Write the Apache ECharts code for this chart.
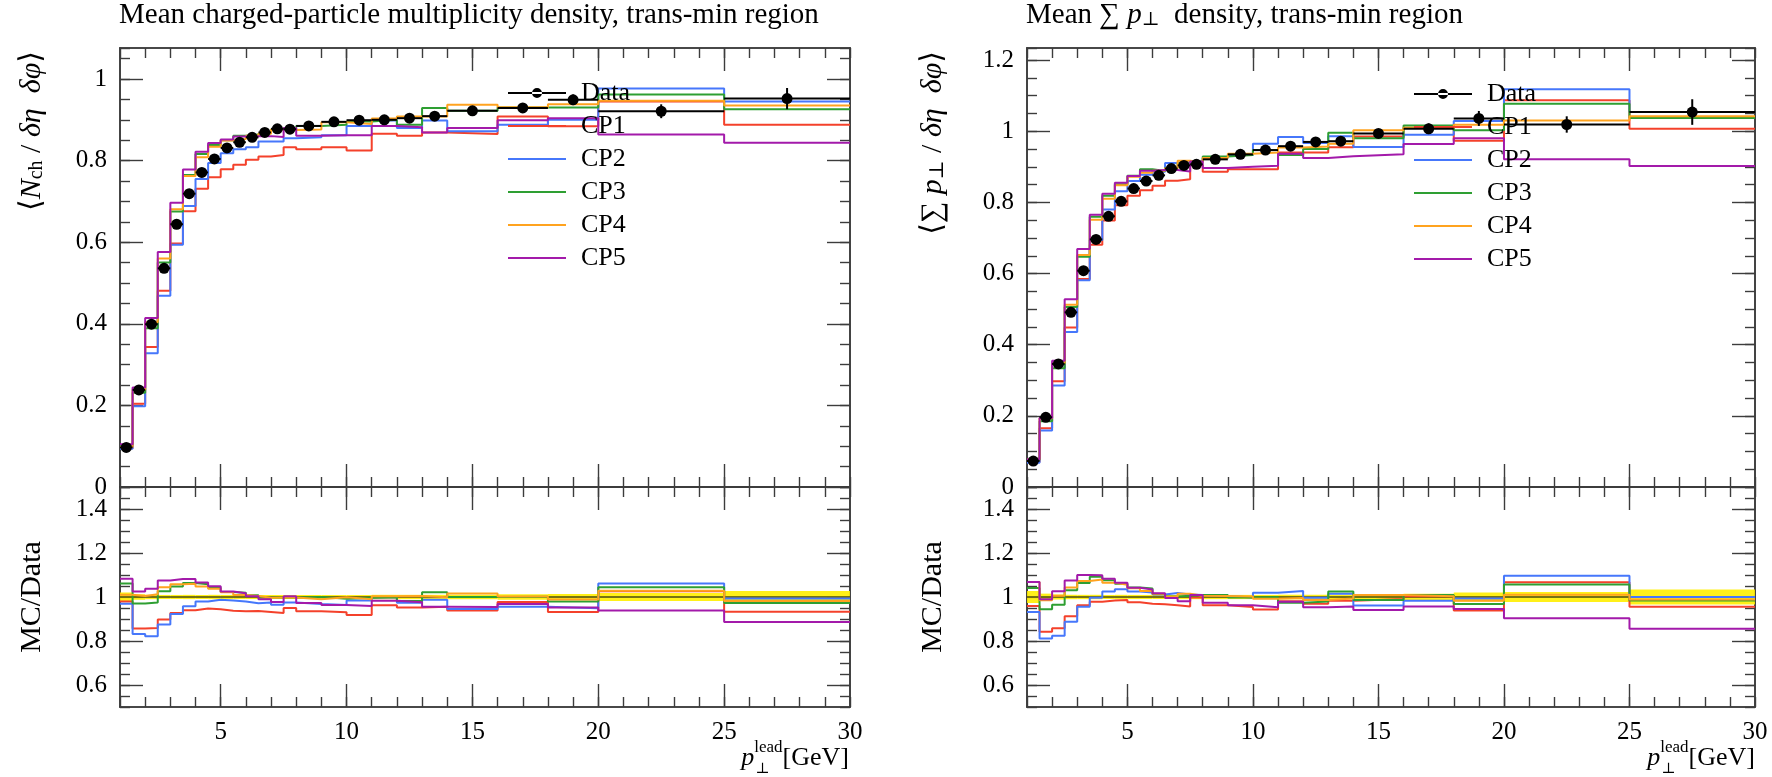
<!DOCTYPE html>
<html>
<head>
<meta charset="utf-8">
<script src="https://cdn.jsdelivr.net/npm/echarts@6/dist/echarts.min.js"></script>
<style>
  html, body { margin: 0; padding: 0; background: #ffffff; }
  #chart { width: 1772px; height: 777px; }
</style>
</head>
<body>
<div id="chart"></div>
<script>
// Bin edges of the leading-track pT histograms [GeV]
const binEdges = [1, 1.5, 2, 2.5, 3, 3.5, 4, 4.5, 5, 5.5, 6, 6.5, 7, 7.5, 8, 9, 10, 11, 12, 13, 14, 16, 18, 20, 25, 30];

// Charged-particle multiplicity density, trans-min region
const nchData = [0.097, 0.238, 0.399, 0.536, 0.644, 0.719, 0.771, 0.804, 0.831, 0.845, 0.857, 0.869, 0.878, 0.877, 0.885, 0.895, 0.899, 0.900, 0.904, 0.909, 0.922, 0.929, 0.949, 0.921, 0.952];
const nchErr  = [0.002, 0.003, 0.004, 0.005, 0.006, 0.007, 0.007, 0.008, 0.008, 0.008, 0.008, 0.008, 0.008, 0.008, 0.008, 0.008, 0.008, 0.009, 0.009, 0.009, 0.009, 0.012, 0.013, 0.017, 0.026];
const nchCP1  = [0.095, 0.204, 0.343, 0.481, 0.597, 0.676, 0.731, 0.759, 0.779, 0.790, 0.802, 0.810, 0.814, 0.833, 0.828, 0.833, 0.825, 0.866, 0.861, 0.869, 0.865, 0.908, 0.884, 0.945, 0.888];
const nchCP2  = [0.094, 0.198, 0.328, 0.469, 0.594, 0.689, 0.755, 0.794, 0.818, 0.828, 0.833, 0.847, 0.847, 0.855, 0.857, 0.862, 0.885, 0.898, 0.880, 0.898, 0.872, 0.888, 0.900, 0.977, 0.945];
const nchCP3  = [0.103, 0.231, 0.389, 0.550, 0.675, 0.765, 0.816, 0.838, 0.850, 0.861, 0.864, 0.867, 0.876, 0.875, 0.885, 0.888, 0.896, 0.900, 0.888, 0.929, 0.922, 0.930, 0.930, 0.962, 0.926];
const nchCP4  = [0.098, 0.239, 0.404, 0.560, 0.681, 0.762, 0.808, 0.834, 0.849, 0.853, 0.861, 0.866, 0.876, 0.875, 0.876, 0.894, 0.890, 0.903, 0.908, 0.908, 0.937, 0.931, 0.938, 0.947, 0.935];
const nchCP5  = [0.105, 0.244, 0.414, 0.576, 0.697, 0.778, 0.822, 0.843, 0.852, 0.859, 0.860, 0.860, 0.858, 0.880, 0.861, 0.862, 0.862, 0.885, 0.882, 0.869, 0.880, 0.899, 0.904, 0.864, 0.844];

// Scalar sum-pT density, trans-min region
const sptData = [0.073, 0.196, 0.346, 0.491, 0.608, 0.696, 0.761, 0.803, 0.839, 0.860, 0.876, 0.895, 0.904, 0.907, 0.921, 0.935, 0.947, 0.958, 0.970, 0.972, 0.994, 1.007, 1.036, 1.019, 1.054];
const sptErr  = [0.002, 0.003, 0.004, 0.005, 0.006, 0.007, 0.007, 0.008, 0.008, 0.008, 0.008, 0.008, 0.009, 0.009, 0.009, 0.009, 0.009, 0.010, 0.010, 0.010, 0.012, 0.015, 0.021, 0.023, 0.036];
const sptCP1  = [0.070, 0.165, 0.297, 0.448, 0.585, 0.681, 0.749, 0.792, 0.819, 0.834, 0.847, 0.861, 0.865, 0.905, 0.886, 0.893, 0.893, 0.940, 0.940, 0.955, 0.985, 1.010, 0.973, 1.087, 1.007];
const sptCP2  = [0.068, 0.159, 0.285, 0.436, 0.581, 0.694, 0.780, 0.831, 0.860, 0.878, 0.886, 0.911, 0.914, 0.915, 0.925, 0.933, 0.965, 0.984, 0.967, 0.986, 0.956, 0.990, 1.029, 1.118, 1.054];
const sptCP3  = [0.076, 0.185, 0.334, 0.506, 0.647, 0.760, 0.819, 0.851, 0.875, 0.893, 0.888, 0.897, 0.909, 0.915, 0.929, 0.933, 0.947, 0.933, 0.950, 0.996, 0.980, 1.016, 1.003, 1.077, 1.037];
const sptCP4  = [0.078, 0.193, 0.348, 0.512, 0.652, 0.751, 0.810, 0.848, 0.872, 0.883, 0.889, 0.896, 0.917, 0.912, 0.925, 0.937, 0.940, 0.954, 0.957, 0.965, 1.003, 1.010, 1.018, 1.030, 1.042];
const sptCP5  = [0.078, 0.194, 0.355, 0.528, 0.669, 0.765, 0.824, 0.855, 0.874, 0.889, 0.891, 0.891, 0.887, 0.915, 0.897, 0.900, 0.903, 0.937, 0.925, 0.930, 0.935, 0.964, 0.980, 0.921, 0.902];

// Tick labels
const xMajorTicks = [5, 10, 15, 20, 25];
const xTickLabels = [5, 10, 15, 20, 25, 30];
const nchTickLabels = [0, 0.2, 0.4, 0.6, 0.8, 1];
const sptTickLabels = [0, 0.2, 0.4, 0.6, 0.8, 1, 1.2];
const ratioTickLabels = [0.6, 0.8, 1, 1.2, 1.4];

const genNames = ['CP1', 'CP2', 'CP3', 'CP4', 'CP5'];
const genColors = ['#F4412B', '#4677FB', '#2E9F32', '#FFA31F', '#A31AAA'];

const FONT = '"Liberation Serif", "DejaVu Serif", serif';
const FRAME = '#3c3c3c';

// ---- helpers -------------------------------------------------------------
function steps(vals) {
  return binEdges.map((e, i) => [e, vals[Math.min(i, vals.length - 1)]]);
}
function ratioTo(mc, ref) {
  return mc.map((v, i) => v / ref[i]);
}
function fmtTick(v) {
  return String(Math.round(v * 10) / 10);
}

const tickStyle = { color: FRAME, width: 1.4 };
const lineAxis = { show: true, onZero: false, lineStyle: { color: FRAME, width: 1.6 } };
const labelStyle = { fontFamily: FONT, fontSize: 25, color: '#000' };

function xAxesFor(gi, showLabels) {
  const base = { type: 'value', gridIndex: gi, min: 1, max: 30, splitLine: { show: false }, axisLine: lineAxis };
  return [
    Object.assign({}, base, { position: 'bottom', interval: 1,
      axisTick: { inside: true, length: 10, lineStyle: tickStyle }, axisLabel: { show: false } }),
    Object.assign({}, base, { position: 'bottom',
      axisTick: { inside: true, length: 23, customValues: xMajorTicks, lineStyle: tickStyle },
      axisLabel: Object.assign({ show: showLabels, customValues: xTickLabels, margin: 13 }, labelStyle) }),
    Object.assign({}, base, { position: 'top', interval: 1,
      axisTick: { inside: true, length: 10, lineStyle: tickStyle }, axisLabel: { show: false } }),
    Object.assign({}, base, { position: 'top',
      axisTick: { inside: true, length: 23, customValues: xMajorTicks, lineStyle: tickStyle }, axisLabel: { show: false } })
  ];
}

function yAxesFor(gi, min, max, majors, labels) {
  const base = { type: 'value', gridIndex: gi, min: min, max: max, splitLine: { show: false }, axisLine: lineAxis };
  return [
    Object.assign({}, base, { position: 'left', interval: 0.05,
      axisTick: { inside: true, length: 10, lineStyle: tickStyle }, axisLabel: { show: false } }),
    Object.assign({}, base, { position: 'left',
      axisTick: { inside: true, length: 23, customValues: majors, lineStyle: tickStyle },
      axisLabel: Object.assign({ show: true, customValues: labels, margin: 13, formatter: fmtTick }, labelStyle) }),
    Object.assign({}, base, { position: 'right', interval: 0.05,
      axisTick: { inside: true, length: 10, lineStyle: tickStyle }, axisLabel: { show: false } }),
    Object.assign({}, base, { position: 'right',
      axisTick: { inside: true, length: 23, customValues: majors, lineStyle: tickStyle }, axisLabel: { show: false } })
  ];
}

// Data points with horizontal (bin width) and vertical error bars
function dataSeries(gi, vals, errs) {
  return {
    name: 'Data', type: 'custom', xAxisIndex: gi * 4, yAxisIndex: gi * 4, z: 6,
    itemStyle: { color: '#000' },
    data: vals.map((v, i) => [binEdges[i], binEdges[i + 1], v, errs[i]]),
    encode: { x: [0, 1], y: 2 },
    renderItem: function (params, api) {
      const lo = api.value(0), hi = api.value(1), y = api.value(2), e = api.value(3);
      const xm = (lo + hi) / 2;
      const pL = api.coord([lo, y]), pR = api.coord([hi, y]);
      const pM = api.coord([xm, y]);
      const pT = api.coord([xm, y + e]), pB = api.coord([xm, y - e]);
      return { type: 'group', children: [
        { type: 'line', shape: { x1: pL[0], y1: pL[1], x2: pR[0], y2: pR[1] }, style: { stroke: '#000', lineWidth: 2 } },
        { type: 'line', shape: { x1: pT[0], y1: pT[1], x2: pB[0], y2: pB[1] }, style: { stroke: '#000', lineWidth: 2 } },
        { type: 'circle', shape: { cx: pM[0], cy: pM[1], r: 5.5 }, style: { fill: '#000' } }
      ] };
    }
  };
}

// Relative data uncertainty band around unity
function bandSeries(gi, vals, errs) {
  return {
    name: 'Data band', type: 'custom', xAxisIndex: gi * 4, yAxisIndex: gi * 4, z: 1,
    data: vals.map((v, i) => [binEdges[i], binEdges[i + 1], errs[i] / v]),
    encode: { x: [0, 1] },
    renderItem: function (params, api) {
      const lo = api.value(0), hi = api.value(1), r = api.value(2);
      const p0 = api.coord([lo, 1 + r]), p1 = api.coord([hi, 1 - r]);
      return { type: 'rect', shape: { x: p0[0], y: p0[1], width: p1[0] - p0[0], height: p1[1] - p0[1] },
        style: { fill: '#FFEE00', opacity: 0.9 } };
    }
  };
}

function histSeries(gi, name, color, vals, z) {
  return {
    name: name, type: 'line', step: 'end', xAxisIndex: gi * 4, yAxisIndex: gi * 4,
    data: steps(vals), symbol: 'none', showSymbol: false, z: z,
    lineStyle: { color: color, width: 2 }, itemStyle: { color: color },
    emphasis: { disabled: true }
  };
}

function panelSeries(gMain, gRatio, data, errs, mcs) {
  const out = [];
  mcs.forEach((mc, k) => out.push(histSeries(gMain, genNames[k], genColors[k], mc, 3)));
  out.push(dataSeries(gMain, data, errs));
  out.push(bandSeries(gRatio, data, errs));
  out.push(Object.assign(histSeries(gRatio, 'Data ratio', '#4a4a10', data.map(() => 1), 2), { lineStyle: { color: '#4a4a10', width: 1.3 } }));
  mcs.forEach((mc, k) => out.push(histSeries(gRatio, genNames[k], genColors[k], ratioTo(mc, data), 3)));
  return out;
}

// ---- option ----------------------------------------------------------------
const dataIcon = 'path://M0,4.1H58V5.9H0Z M24,5A5,5 0 1,0 34,5A5,5 0 1,0 24,5Z';
function legendAt(left, top) {
  return {
    left: left, top: top, padding: 0, orient: 'vertical', itemWidth: 58, itemHeight: 10, itemGap: 7,
    selectedMode: false,
    textStyle: { fontFamily: FONT, fontSize: 26, lineHeight: 26, color: '#000', padding: [0, 0, 0, 10] },
    data: [{ name: 'Data', icon: dataIcon }].concat(genNames.map(n => ({ name: n, itemStyle: { opacity: 0 } })))
  };
}

const TITLE_SIZE = 29;
const AXIS_TITLE_SIZE = 30;
function richSet(size) {
  return {
    r: { fontFamily: FONT, fontSize: size, color: '#000' },
    i: { fontFamily: FONT, fontSize: size, fontStyle: 'italic', color: '#000' },
    s: { fontFamily: FONT, fontSize: Math.round(size * 0.66), lineHeight: Math.round(size * 0.52), verticalAlign: 'bottom', color: '#000' }
  };
}

const option = {
  animation: false,
  backgroundColor: '#ffffff',
  title: [
    { text: 'Mean charged-particle multiplicity density, trans-min region', left: 119, top: 1, padding: 0,
      textStyle: { fontFamily: FONT, fontSize: TITLE_SIZE, fontWeight: 'normal', color: '#000' } },
    { text: '{r|Mean ∑ }{i|p}{s|⊥}{r|  density, trans-min region}', left: 1026, top: 1, padding: 0,
      textStyle: { fontFamily: FONT, fontSize: TITLE_SIZE, fontWeight: 'normal', color: '#000', rich: richSet(TITLE_SIZE) } }
  ],
  legend: [legendAt(507, 80), legendAt(1413, 81)],
  grid: [
    { left: 120, top: 48, width: 730, height: 439 },
    { left: 120, top: 487, width: 730, height: 220 },
    { left: 1027, top: 48, width: 728, height: 439 },
    { left: 1027, top: 487, width: 728, height: 220 }
  ],
  xAxis: [].concat(xAxesFor(0, false), xAxesFor(1, true), xAxesFor(2, false), xAxesFor(3, true)),
  yAxis: [].concat(
    yAxesFor(0, 0, 1.076, nchTickLabels, nchTickLabels),
    yAxesFor(1, 0.5, 1.5, ratioTickLabels, ratioTickLabels),
    yAxesFor(2, 0, 1.234, sptTickLabels, sptTickLabels),
    yAxesFor(3, 0.5, 1.5, ratioTickLabels, ratioTickLabels)
  ),
  series: [].concat(
    panelSeries(0, 1, nchData, nchErr, [nchCP1, nchCP2, nchCP3, nchCP4, nchCP5]),
    panelSeries(2, 3, sptData, sptErr, [sptCP1, sptCP2, sptCP3, sptCP4, sptCP5])
  )
};

// ---- axis titles -----------------------------------------------------------
function measure(font, text) {
  const ctx = document.createElement('canvas').getContext('2d');
  ctx.font = font;
  return ctx.measureText(text).width;
}

function yTitle(x, y, rich, align) {
  return { type: 'text', x: x, y: y, rotation: Math.PI / 2,
    style: { text: rich, align: align, verticalAlign: 'middle', rich: richSet(AXIS_TITLE_SIZE),
      fontFamily: FONT, fontSize: AXIS_TITLE_SIZE, fill: '#000' } };
}

function xTitle(right, base) {
  const wG = measure('26px ' + FONT, '[GeV]');
  const wL = measure('17px ' + FONT, 'lead');
  return [
    { type: 'text', x: right, y: base + 6, style: { text: '[GeV]', align: 'right', verticalAlign: 'bottom', fontFamily: FONT, fontSize: 26, fill: '#000' } },
    { type: 'text', x: right - wG, y: base - 9, style: { text: 'lead', align: 'right', verticalAlign: 'bottom', fontFamily: FONT, fontSize: 17, fill: '#000' } },
    { type: 'text', x: right - wG - wL + 1, y: base + 12, style: { text: '⊥', align: 'left', verticalAlign: 'bottom', fontFamily: FONT, fontSize: 15, fill: '#000' } },
    { type: 'text', x: right - wG - wL, y: base + 6, style: { text: 'p', align: 'right', verticalAlign: 'bottom', fontFamily: FONT, fontSize: 26, fontStyle: 'italic', fill: '#000' } }
  ];
}

option.graphic = [].concat(
  [
    yTitle(32, 51, '{r|⟨}{i|N}{s|ch}{r| / }{i|δη  δφ}{r|⟩}', 'right'),
    yTitle(32, 597, '{r|MC/Data}', 'center'),
    yTitle(933, 51, '{r|⟨∑ }{i|p}{s|⊥}{r| / }{i|δη  δφ}{r|⟩}', 'right'),
    yTitle(933, 597, '{r|MC/Data}', 'center')
  ],
  xTitle(849, 765),
  xTitle(1755, 765)
);

const chart = echarts.init(document.getElementById('chart'), null, { renderer: 'canvas' });
chart.setOption(option);
</script>
</body>
</html>
